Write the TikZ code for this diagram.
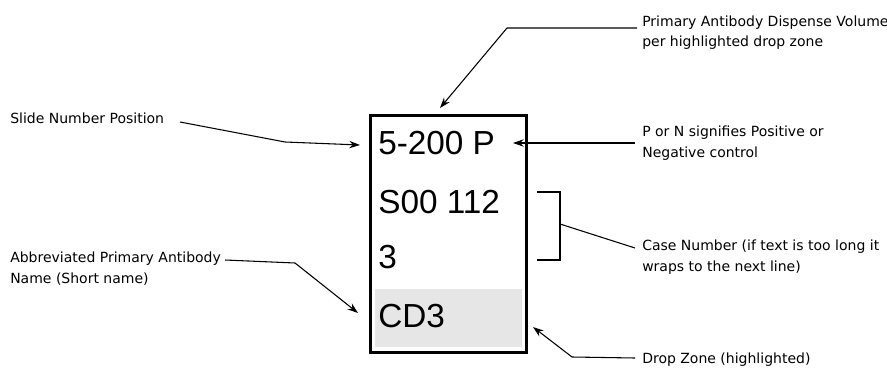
\documentclass[tikz,border=0pt]{standalone}
\usepackage{fontspec}
\setmainfont{DejaVu Sans}
\newfontfamily\boxfont{Liberation Sans}
\usetikzlibrary{arrows.meta}
\definecolor{zonegray}{HTML}{E6E6E6}
\tikzset{
  lbl/.style={anchor=base west, inner sep=0pt, align=left, font=\fontsize{10.5}{15.3}\selectfont},
  boxtxt/.style={anchor=base west, inner sep=0pt, font=\boxfont\fontsize{25}{30}\selectfont},
  ptr/.style={line width=0.8pt, -{Stealth[length=8pt,width=5.5pt]}},
  brk/.style={line width=0.8pt}
}
\begin{document}
\begin{tikzpicture}[x=0.75pt,y=-0.75pt]
\useasboundingbox (0,0) rectangle (887,367);
% highlighted drop zone and slide box
\fill[zonegray] (375,289) rectangle (522,347);
\draw[line width=2.25pt] (370,116) rectangle (526,352);
\node[boxtxt] (l1) at (378,154) {5-200 P};
\node[boxtxt] (l2) at (378,213) {S00 112};
\node[boxtxt] (l3) at (378,268) {3};
\node[boxtxt] (l4) at (378,327) {CD3};
% labels (base anchor = baseline of last line)
\node[lbl] (tvol) at (642,47) {Primary Antibody Dispense Volume\\per highlighted drop zone};
\node[lbl] (tpn) at (642,157) {P or N signifies Positive or\\Negative control};
\node[lbl] (tcase) at (642,271) {Case Number (if text is too long it\\wraps to the next line)};
\node[lbl] (tdrop) at (642,363) {Drop Zone (highlighted)};
\node[lbl] (tslide) at (10,123) {Slide Number Position};
\node[lbl] (tabbr) at (10,283) {Abbreviated Primary Antibody\\Name (Short name)};
% connector points
\coordinate (volS) at (637,28);
\coordinate (volB) at (507,28);
\coordinate (volT) at (440,108);
\coordinate (pnS) at (635,143);
\coordinate (pnT) at (513,143);
\coordinate (bTL) at (537,192);
\coordinate (bTR) at (560,192);
\coordinate (bBR) at (560,260);
\coordinate (bBL) at (537,260);
\coordinate (bM) at (560,224);
\coordinate (caseS) at (635,248);
\coordinate (dropS) at (635,358);
\coordinate (dropB) at (572,357);
\coordinate (dropT) at (533,327);
\coordinate (slS) at (180,122);
\coordinate (slB) at (285,142);
\coordinate (slT) at (360,145);
\coordinate (abS) at (225,260);
\coordinate (abB) at (295,263);
\coordinate (abT) at (358,313);
% connectors
\draw[ptr] (volS) -- (volB) -- (volT);
\draw[ptr] (pnS) -- (pnT);
\draw[brk] (bTL) -- (bTR) -- (bBR) -- (bBL);
\draw[brk] (bM) -- (caseS);
\draw[ptr] (dropS) -- (dropB) -- (dropT);
\draw[ptr] (slS) -- (slB) -- (slT);
\draw[ptr] (abS) -- (abB) -- (abT);
\end{tikzpicture}
\end{document}
